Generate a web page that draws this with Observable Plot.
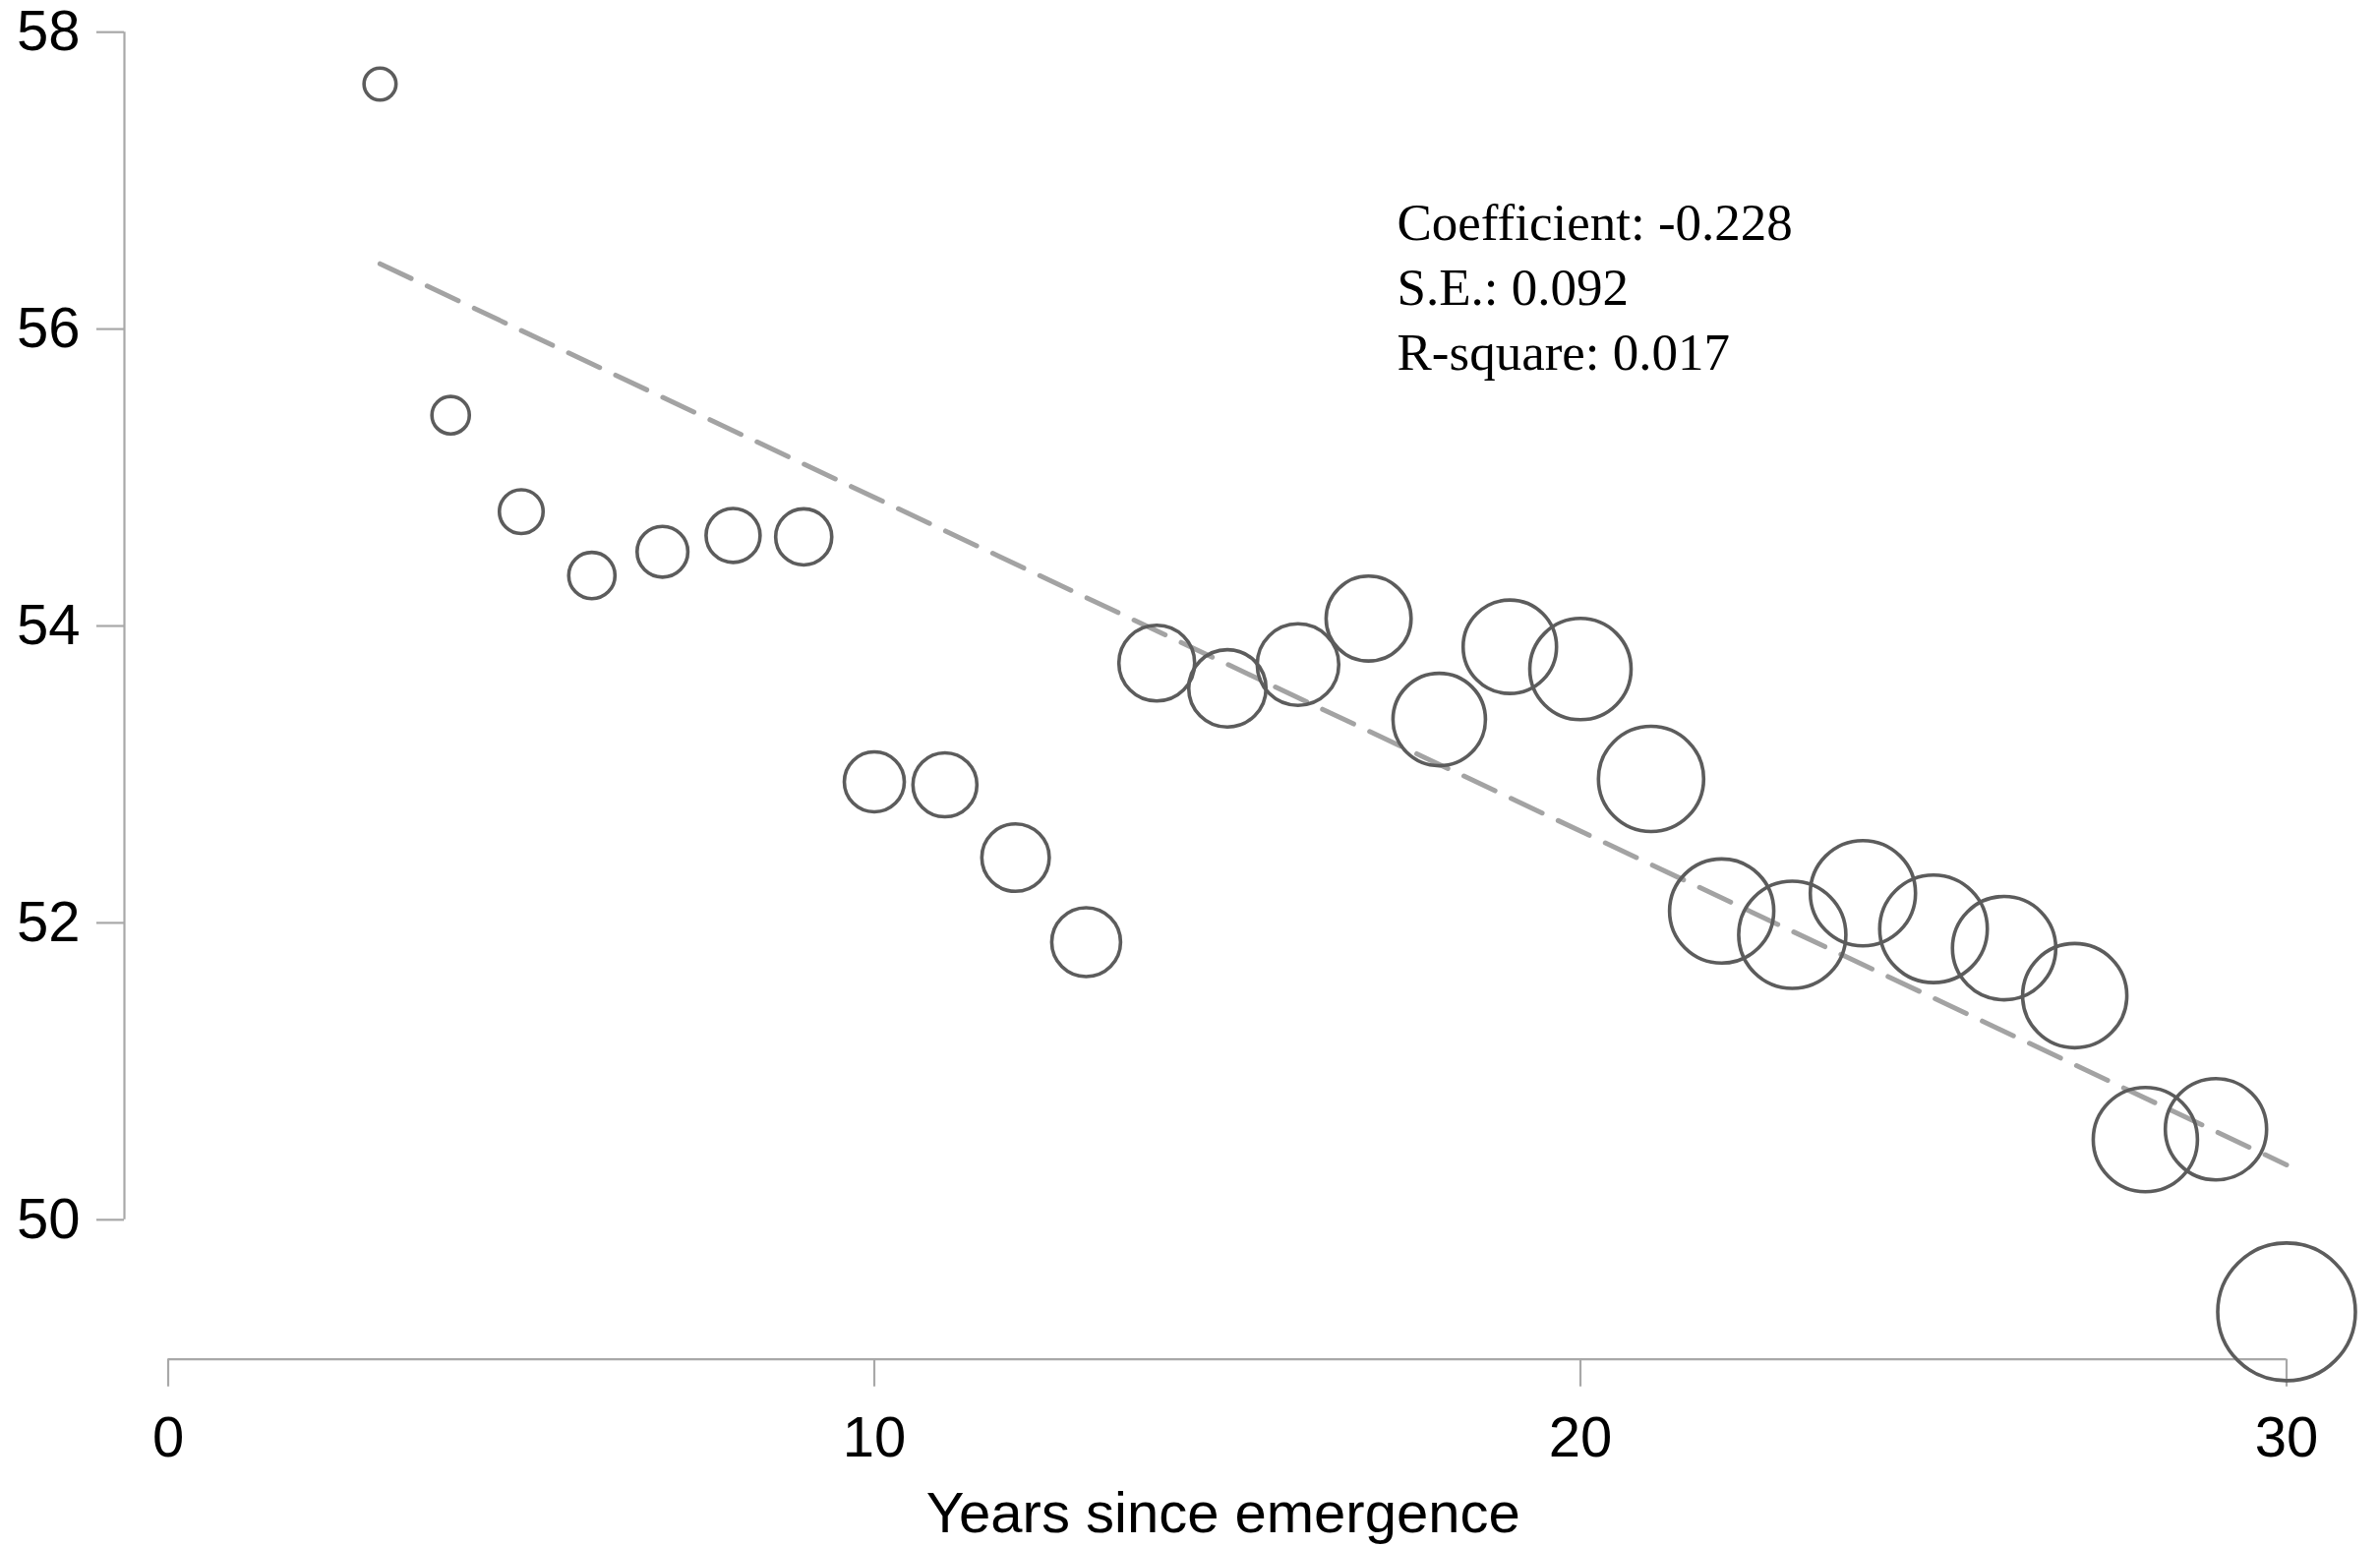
<!DOCTYPE html>
<html>
<head>
<meta charset="utf-8">
<script src="https://cdn.jsdelivr.net/npm/d3@7"></script>
<script src="https://cdn.jsdelivr.net/npm/@observablehq/plot@0.6"></script>
<style>
  html, body { margin: 0; padding: 0; background: #fff; }
  svg { display: block; }
</style>
</head>
<body>
<div id="chart"></div>
<script>
// Data
const years = [3,4,5,6,7,8,9,10,11,12,13,14,15,16,17,18,19,20,21,22,23,24,25,26,27,28,29,30];
const scores = [57.65,55.42,54.77,54.34,54.50,54.61,54.60,52.95,52.93,52.44,51.87,53.75,53.58,53.74,54.05,53.37,53.86,53.71,52.97,52.08,51.92,52.20,51.96,51.83,51.51,50.54,50.61,49.38];
const counts = [54,74,101,113,136,154,166,190,216,240,250,303,315,351,381,451,460,541,584,573,606,584,611,563,573,573,541,1000];
const fitX = [3, 30];
const fitY = [56.44, 50.37];
const xTicks = [0, 10, 20, 30];
const yTicks = [50, 52, 54, 56, 58];
const statsLines = ["Coefficient: -0.228", "S.E.: 0.092", "R-square: 0.017"];
const xLabel = "Years since emergence";

const points = years.map((x, i) => ({x, y: scores[i], n: counts[i]}));
const fit = fitX.map((x, i) => ({x, y: fitY[i]}));

const axisGray = "#a8a8a8";
const xDomain = [-0.62, 30.5];
const yDomain = [49.06, 58.2];

const chart = Plot.plot({
  width: 2420,
  height: 1573,
  marginLeft: 126,
  marginRight: 59.6,
  marginTop: 2,
  marginBottom: 191.3,
  style: {fontFamily: "'Liberation Sans', Arial, sans-serif", fontSize: "58px", background: "#fff", color: "black"},
  x: {domain: xDomain},
  y: {domain: yDomain},
  r: {type: "sqrt", domain: [0, 1000], range: [0, 70]},
  marks: [
    // axis lines spanning only the tick range
    Plot.ruleY([yDomain[0]], {x1: xTicks[0], x2: xTicks[xTicks.length - 1], stroke: axisGray, strokeWidth: 2.2}),
    Plot.ruleX([xDomain[0]], {y1: yTicks[0], y2: yTicks[yTicks.length - 1], stroke: axisGray, strokeWidth: 2.2}),
    Plot.axisX({ticks: xTicks, tickSize: 28, tickPadding: 30, stroke: axisGray, strokeWidth: 2.2, fill: "black",
      tickFormat: d => String(d), label: xLabel, labelAnchor: "center", labelOffset: 176, labelArrow: "none", fontSize: 58}),
    Plot.axisY({ticks: yTicks, tickSize: 28, tickPadding: 17, stroke: axisGray, strokeWidth: 2.2, fill: "black",
      tickFormat: d => String(d), label: null, fontSize: 58}),
    Plot.line(fit, {x: "x", y: "y", stroke: "#a3a3a3", strokeWidth: 5, strokeDasharray: "35,18"}),
    Plot.dot(points, {x: "x", y: "y", r: "n", stroke: "#5c5c5c", strokeWidth: 3.6, fill: "none"}),
    Plot.text([statsLines.join("\n")], {
      frameAnchor: "top-left", dx: 1294, dy: 195, textAnchor: "start", lineAnchor: "top",
      lineHeight: 1.24, fontSize: 53, fontFamily: "'Liberation Serif', 'Times New Roman', serif", fill: "black"
    })
  ]
});
document.getElementById("chart").appendChild(chart);
</script>
</body>
</html>
